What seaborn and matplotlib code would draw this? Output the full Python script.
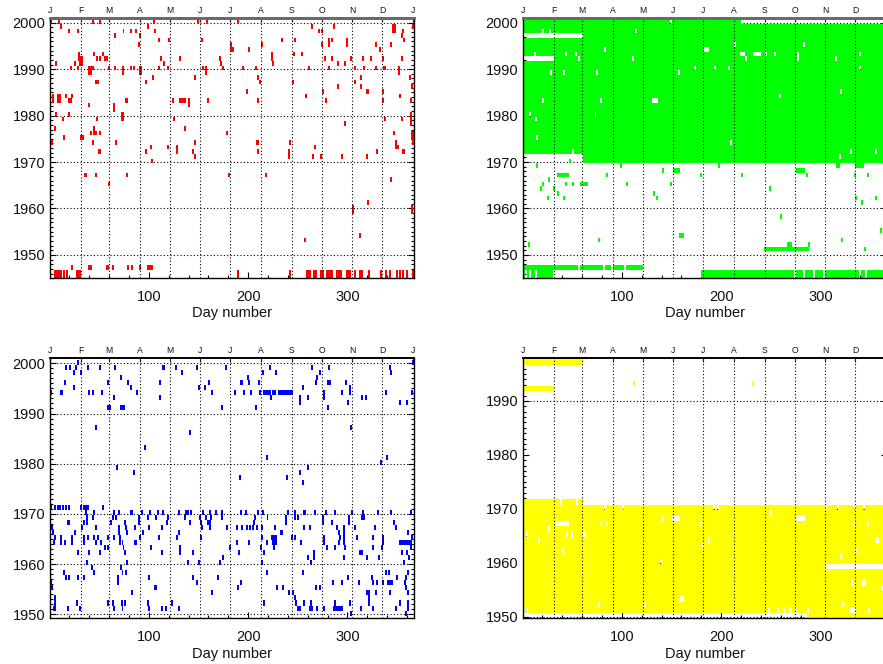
import numpy as np
import pandas as pd
import matplotlib
matplotlib.use("Agg")
import matplotlib.pyplot as plt
from matplotlib.colors import ListedColormap
from matplotlib.ticker import MultipleLocator, FixedLocator, StrMethodFormatter
import seaborn as sns

# ---------------- data ----------------
MONTH_STARTS = [1, 32, 60, 91, 121, 152, 182, 213, 244, 274, 305, 335, 366]
MONTH_LETTERS = ["J", "F", "M", "A", "M", "J", "J", "A", "S", "O", "N", "D", "J"]
DAY_TICKS = [100, 200, 300]
X_LABEL = "Day number"

# red panel: (year or (y0, y1), [days]) single marks ; blocks (y0, y1, d0, d1)
RED_MARKS = [
    (2000, [1, 9, 43, 50, 105, 149, 158, 189]),
    (1999, [11, 99, 264, 286, 365]),
    (1998, [19, 28, 74, 82, 87, 106, 271, 274, 355]),
    (1997, [65, 91, 354]),
    (1996, [110, 120, 153, 234, 247, 281, 284, 299, 356]),
    (1995, [90, 213, 274, 281, 299, 328, 343]),
    (1994, [184, 200, 332]),
    (1993, [44, 53, 246, 254]),
    (1992, [47, 50, 55, 57, 112, 131, 171, 277, 284, 303, 315, 323, 335, 354]),
    (1991, [6, 25, 115, 172, 225, 290, 297]),
    (1990, [21, 28, 43, 59, 65, 82, 85, 110, 119, 154, 174, 194, 207, 261, 281, 307, 316, 328]),
    (1988, [104, 146, 209, 313, 362]),
    (1987, [97, 211, 245, 307]),
    (1986, [290, 313, 364]),
    (1985, [198, 275, 335]),
    (1984, [16, 22, 258, 352]),
    (1983, [124, 159, 209, 278, 335, 363]),
    (1982, [39]),
    (1980, [6, 19]),
    (1979, [13, 47, 125, 337, 354]),
    (1978, [297]),
    (1977, [5, 136]),
    (1976, [41, 46, 50, 178, 346]),
    (1975, [14]),
    (1974, [2, 43, 66, 146, 242, 365]),
    (1973, [102, 119, 267, 350]),
    (1972, [97, 144, 209, 329]),
    (1971, [146, 265, 273, 294, 319]),
    (1970, [103]),
    (1967, [46, 78, 180, 217]),
    (1966, [343]),
    (1965, [59]),
    (1961, [320]),
    (1954, [312]),
    (1953, [257]),
    (1947, [22, 63, 79, 83, 91]),
    ((1945, 1946), [14, 17, 189, 242, 307, 321, 333, 338, 342, 349, 352, 355, 359, 365]),
]
RED_BLOCKS = [
    (1994, 1995, 182, 183), (1998, 1999, 345, 348), (1992, 1993, 224, 225),
    (1992, 1993, 29, 30), (1991, 1992, 30, 33), (1989, 1990, 39, 42),
    (1989, 1990, 73, 75), (1989, 1990, 91, 93), (1989, 1990, 157, 158),
    (1989, 1990, 351, 352), (1990, 1990, 336, 338), (1987, 1987, 46, 49),
    (1985, 1985, 319, 321), (1983, 1984, 3, 4), (1983, 1984, 8, 11),
    (1983, 1983, 19, 22), (1983, 1983, 77, 79), (1983, 1983, 131, 137),
    (1982, 1983, 140, 141), (1981, 1982, 64, 65), (1979, 1980, 72, 75),
    (1978, 1980, 363, 364), (1976, 1977, 44, 45), (1975, 1976, 364, 366),
    (1975, 1975, 31, 34), (1974, 1974, 208, 210), (1973, 1974, 348, 349),
    (1972, 1973, 128, 129), (1972, 1972, 49, 51), (1972, 1972, 355, 357),
    (1971, 1972, 241, 242), (1967, 1967, 35, 37), (1959, 1960, 305, 306),
    (1959, 1960, 364, 365), (1947, 1947, 39, 42), (1947, 1947, 57, 59),
    (1947, 1947, 99, 104), (1945, 1946, 1, 1), (1945, 1946, 5, 12),
    (1945, 1946, 27, 31), (1945, 1946, 259, 263), (1945, 1946, 266, 269),
    (1945, 1946, 273, 276), (1945, 1946, 279, 285), (1945, 1946, 289, 294),
    (1945, 1946, 299, 303), (1945, 1946, 312, 315),
]

# green panel
GREEN_BLOCKS = [
    (1972, 2000, 1, 60), (1970, 2000, 61, 219), (1970, 1999, 220, 366),
    (1969, 1969, 316, 319), (1969, 1969, 335, 343), (1967, 1967, 37, 46),
    (1965, 1965, 58, 65), (1968, 1968, 152, 158), (1968, 1968, 276, 284),
    (1954, 1954, 158, 162), (1951, 1951, 244, 288), (1952, 1952, 267, 271),
    (1947, 1947, 1, 121), (1945, 1946, 1, 30), (1945, 1946, 180, 366),
]
GREEN_MARKS = [
    (1970, [47]), (1969, [14, 99, 197]), (1968, [141]),
    (1967, [35, 85, 179, 221, 286, 334, 347]), (1966, [26]),
    (1965, [20, 43, 50, 105, 149]), (1964, [18, 31, 249]), (1963, [35, 132]),
    (1962, [25, 41, 135, 335, 355]), (1961, [341]), (1958, [260]),
    (1955, [360]), (1953, [77, 321]), (1952, [6, 288]), (1951, [344]),
]
GREEN_GAPS = [
    (2000, [149]), (1998, [20, 27, 114]), (1995, [213, 283]), (1994, [83]),
    (1993, [12, 43, 53, 245, 254, 277, 339]), (1992, [56, 111, 225, 277, 315]),
    (1990, [173, 193, 207, 339]), (1989, [28, 41, 75, 157]), (1985, [320]),
    (1984, [259]), (1983, [20, 79]), (1980, [7, 73]), (1979, [13]), (1975, [14]),
    (1974, [209]), (1972, [50, 330, 355]), (1971, [319]),
    (1947, [56, 82, 90, 103]), ((1945, 1946), [3, 7, 13, 274, 283, 293, 303, 339, 345]),
]
GREEN_GAP_BLOCKS = [
    (1997, 1997, 1, 60), (1992, 1992, 1, 31), (1994, 1994, 183, 187),
    (1993, 1993, 219, 224), (1993, 1993, 233, 240), (1983, 1983, 131, 136),
]

# blue panel
BLUE_MARKS = [
    (2000, [28, 365]),
    (1999, [16, 20, 26, 38, 50, 65, 127, 148, 177, 222, 264, 281, 342]),
    (1998, [24, 31, 133, 214, 228, 272, 343]),
    (1997, [71, 199, 269]),
    (1996, [15, 58, 79, 111, 160, 200, 210, 268, 298]),
    (1995, [24, 82, 150, 156, 255, 302]),
    (1994, [1, 39, 43, 52, 88, 163, 186, 195, 202, 211, 276, 294, 302, 338, 364]),
    (1993, [64, 111, 223, 252, 260, 276, 314, 318]),
    (1992, [252, 300, 352, 359]),
    (1991, [173, 207, 280]),
    (1987, [46, 303]), (1986, [141]), (1983, [96]), (1981, [218, 339]),
    (1980, [333]), (1979, [67, 260]), (1978, [85, 252]), (1977, [191, 239]),
    (1976, [255]),
    (1971, [1, 5, 8, 10, 13, 16, 19, 31, 34, 36, 38, 53]),
    (1970, [36, 44, 64, 69, 93, 101, 109, 114, 130, 142, 154, 161, 167, 173, 197,
            209, 214, 240, 247, 267, 278, 287, 304, 315, 330, 343, 363]),
    (1969, [37, 43, 63, 66, 90, 99, 107, 119, 136, 151, 157, 162, 173, 206, 219,
            238, 247, 250, 275, 301, 314, 316]),
    (1968, [34, 37, 61, 76, 90, 118, 141, 152, 159, 161, 205, 275, 284, 301, 346]),
    (1967, [2, 32, 46, 69, 77, 86, 100, 113, 153, 161, 178, 188, 193, 198, 201, 204,
            208, 213, 227, 256, 262, 289, 296, 307, 327, 348]),
    (1966, [3, 69, 78, 94, 130, 291, 296, 360]),
    (1965, [5, 11, 22, 34, 38, 44, 48, 58, 64, 70, 91, 110, 128, 152, 213, 244, 247,
            276, 292, 296, 309, 325, 335, 364]),
    (1964, [4, 11, 15, 22, 34, 46, 51, 70, 73, 188, 200, 218, 253, 276, 291, 296, 335]),
    (1963, [55, 58, 74, 102, 131, 212, 226, 279, 287, 297, 325, 334, 363]),
    (1962, [28, 39, 50, 76, 113, 131, 144, 190, 215, 266, 354, 359]),
    (1961, [174, 260, 266, 296, 319, 331, 361]),
    (1960, [37, 78, 139, 150, 171, 213, 263, 356]),
    (1959, [42, 71]),
    (1958, [14, 44, 73, 77, 218, 255, 338, 341, 360]),
    (1957, [16, 19, 28, 34, 68, 100, 144, 169, 300, 324, 349, 358]),
    (1956, [1, 68, 148, 192, 285, 294, 311, 325, 329, 335, 357]),
    (1955, [2, 189, 229, 235, 268, 272, 358]),
    (1954, [83, 163, 241, 245, 328, 342, 360]),
    (1953, [5, 247, 321]),
    (1952, [5, 27, 58, 63, 72, 76, 99, 123, 215, 248, 256, 263, 287, 302, 321, 352, 360]),
    (1951, [18, 30, 64, 73, 100, 113, 117, 130, 250, 252, 269, 276, 313, 325, 348, 360]),
    (1950, [303, 358]),
]
BLUE_BLOCKS = [
    (1994, 1994, 11, 13), (1999, 1999, 114, 116), (1996, 1996, 192, 194),
    (1996, 1996, 280, 283), (1994, 1994, 215, 223), (1994, 1994, 225, 228),
    (1994, 1994, 231, 245), (1991, 1991, 58, 61), (1991, 1991, 71, 76),
    (1970, 1970, 82, 84), (1970, 1970, 137, 140), (1970, 1970, 192, 193),
    (1970, 1970, 256, 258), (1968, 1968, 18, 20), (1968, 1968, 238, 239),
    (1966, 1966, 25, 26), (1966, 1966, 233, 235), (1965, 1965, 224, 229),
    (1964, 1964, 86, 88), (1964, 1964, 225, 229), (1964, 1964, 352, 364),
    (1963, 1963, 181, 182), (1962, 1962, 312, 315), (1956, 1956, 340, 345),
    (1955, 1955, 106, 108), (1954, 1954, 319, 322), (1951, 1951, 4, 6),
    (1951, 1951, 262, 265), (1951, 1951, 286, 295),
]

# yellow panel
YELLOW_BLOCKS = [
    (1997, 1997, 1, 60), (1992, 1992, 1, 31),
    (1951, 1971, 1, 60), (1951, 1970, 61, 286), (1950, 1970, 287, 366),
]
YELLOW_MARKS = [(1993, [112, 232])]
YELLOW_GAPS = [
    (1971, [38, 54]), (1970, [83, 101, 192, 196, 305, 317, 334, 343]),
    (1969, [250]), (1968, [141]), (1967, [79, 85, 179, 333, 347]), (1966, [26]),
    (1965, [4, 44, 49]), (1964, [16, 187]), (1963, [181]), (1962, [40, 335]),
    (1961, [320]), (1960, [139]), (1956, [331, 342, 344]), (1955, [361]),
    (1952, [77, 123, 322]), (1951, [4, 248, 257, 263, 270, 275, 287, 348]),
]
YELLOW_GAP_BLOCKS = [
    (1967, 1967, 34, 46), (1965, 1965, 61, 63), (1968, 1968, 151, 158),
    (1953, 1953, 159, 162), (1968, 1968, 276, 284), (1964, 1964, 355, 358),
    (1964, 1964, 364, 366), (1959, 1959, 306, 366), (1951, 1951, 329, 335),
]

# ---------------- helpers ----------------
YEAR_LO, YEAR_HI = 1940, 2002
MARK_DAYS = 2  # drawn width of one mark


def build_cells(marks=(), blocks=(), gaps=(), gap_blocks=()):
    years = np.arange(YEAR_LO, YEAR_HI + 1)
    grid = np.zeros((len(years), 366), dtype=bool)

    def put(y0, y1, d0, d1, val):
        grid[y0 - YEAR_LO:y1 - YEAR_LO + 1, d0 - 1:min(d1, 366)] = val

    def put_marks(lst, val):
        for yr, days in lst:
            y0, y1 = (yr, yr) if isinstance(yr, int) else yr
            for d in days:
                put(y0, y1, d, d + MARK_DAYS - 1, val)

    for b in blocks:
        put(*b, True)
    put_marks(marks, True)
    for b in gap_blocks:
        put(*b, False)
    put_marks(gaps, False)
    iy, idd = np.nonzero(grid)
    return pd.DataFrame({"day": idd + 1, "year": years[iy]})


sns.set_theme(style="white")
plt.rcParams["font.family"] = ["Liberation Sans", "DejaVu Sans"]

fig = plt.figure(figsize=(8.83, 6.64), dpi=100)
W, H = 883.0, 664.0


def add_axes(left_px, top_px, width_px, bottom_px):
    return fig.add_axes([left_px / W, 1 - bottom_px / H, width_px / W, (bottom_px - top_px) / H])


day_edges = np.arange(0.5, 367.5, 1.0)
year_edges = np.arange(YEAR_LO, YEAR_HI + 2) - 0.25
XLIM = (0.5, 367.0)


def draw(ax, df, color, ylim, grid_years, grey_top, n_months):
    sns.histplot(data=df, x="day", y="year", bins=[day_edges, year_edges],
                 cmap=ListedColormap([color]), cbar=False, ax=ax)
    ax.set_xlim(*XLIM)
    ax.set_ylim(*ylim)
    dots = (0, (1, 2))
    ax.hlines(grid_years, XLIM[0], XLIM[1], colors="black", linestyles=dots,
              linewidth=0.8, zorder=0.5)
    ax.vlines(MONTH_STARTS[1:-1], ylim[0], ylim[1], colors="black", linestyles=dots,
              linewidth=0.8, zorder=3)
    ax.xaxis.set_major_locator(FixedLocator(DAY_TICKS))
    ax.xaxis.set_minor_locator(MultipleLocator(20))
    ax.yaxis.set_major_locator(MultipleLocator(10))
    ax.yaxis.set_minor_locator(MultipleLocator(1))
    ax.yaxis.set_major_formatter(StrMethodFormatter("{x:.0f}"))
    ax.tick_params(which="both", direction="in", color="black", width=0.8,
                   left=True, right=True, bottom=True, top=False)
    ax.tick_params(which="major", length=4)
    ax.tick_params(which="minor", length=2)
    ax.tick_params(axis="x", labelsize=10.5, pad=8.5, labelcolor="#111111")
    ax.tick_params(axis="y", labelsize=10.5, pad=3.5, labelcolor="#111111")
    ax.set_xlabel(X_LABEL, fontsize=10.5, labelpad=2, color="#111111")
    ax.set_ylabel("")
    for s in ax.spines.values():
        s.set_visible(True)
        s.set_color("black")
        s.set_linewidth(1.0)
    sec = ax.secondary_xaxis("top")
    sec.set_xticks(MONTH_STARTS[:n_months], MONTH_LETTERS[:n_months])
    sec.tick_params(direction="in", length=3, width=0.8, labelsize=6.2, pad=2.5,
                    labelcolor="#111111")
    top_col, top_lw = ("#6a6a6a", 2.0) if grey_top else ("black", 1.2)
    sec.spines["top"].set_color(top_col)
    sec.spines["top"].set_linewidth(top_lw)
    ax.spines["top"].set_color(top_col)
    ax.spines["top"].set_linewidth(top_lw)
    ax.grid(False)


DECADES = [1950, 1960, 1970, 1980, 1990, 2000]

ax_tl = add_axes(50.0, 18.3, 364.0, 277.7)
draw(ax_tl, build_cells(RED_MARKS, RED_BLOCKS), "#ff0000", (1945.1, 2000.95),
     DECADES, True, 13)

ax_tr = add_axes(523.0, 18.3, 364.0, 277.7)
draw(ax_tr, build_cells(GREEN_MARKS, GREEN_BLOCKS, GREEN_GAPS, GREEN_GAP_BLOCKS),
     "#00ff00", (1945.1, 2000.95), DECADES, True, 12)

ax_bl = add_axes(50.0, 358.3, 364.0, 618.3)
draw(ax_bl, build_cells(BLUE_MARKS, BLUE_BLOCKS), "#0000ff", (1949.2, 2001.0),
     DECADES, False, 13)

ax_br = add_axes(523.0, 358.3, 364.0, 618.3)
draw(ax_br, build_cells(YELLOW_MARKS, YELLOW_BLOCKS, YELLOW_GAPS, YELLOW_GAP_BLOCKS),
     "#ffff00", (1949.7, 1997.9), [1950, 1960, 1970, 1990], False, 12)

fig.savefig("out.png", dpi=100, facecolor="white")
